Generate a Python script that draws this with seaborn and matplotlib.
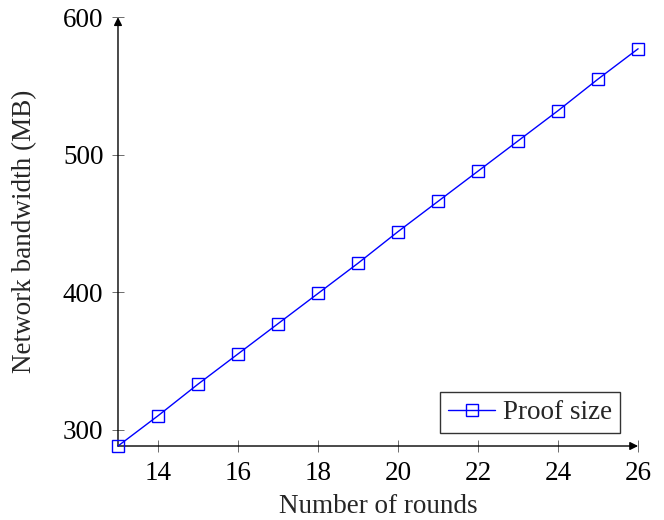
import pandas as pd
import matplotlib
matplotlib.use('Agg')
import matplotlib.pyplot as plt
import seaborn as sns

# data
rounds = [13, 14, 15, 16, 17, 18, 19, 20, 21, 22, 23, 24, 25, 26]
proof_size_mb = [288, 310, 333, 355, 377, 399, 421, 444, 466, 488, 510, 532, 555, 577]
series_name = 'Proof size'

x_ticks = [14, 16, 18, 20, 22, 24, 26]
y_ticks = [300, 400, 500, 600]

df = pd.DataFrame({'Rounds': rounds, 'MB': proof_size_mb, 'Series': series_name})

sns.set_style('white')
plt.rcParams['font.family'] = ['Liberation Serif', 'DejaVu Serif']

FS = 19.5

fig = plt.figure(figsize=(6.64, 5.2), dpi=100)
ax = fig.add_axes([0.1777, 0.1423, 0.961 - 0.1777, 0.967 - 0.1423])

sns.lineplot(data=df, x='Rounds', y='MB', hue='Series', palette={series_name: '#0000ff'},
             marker='s', markersize=8, markerfacecolor='none', markeredgecolor='#0000ff',
             markeredgewidth=1.0, linewidth=1.0, ax=ax, clip_on=False, zorder=5)

ax.set_xlim(13, 26)
ax.set_ylim(288, 600)
ax.set_xticks(x_ticks)
ax.set_yticks(y_ticks)

# pgfplots-ish axis lines: only left and bottom, drawn as arrows
for side in ['top', 'right', 'left', 'bottom']:
    ax.spines[side].set_visible(False)
arrow = dict(arrowstyle='-|>', color='black', lw=1.0, shrinkA=0, shrinkB=0,
             mutation_scale=12)
ax.annotate('', xy=(1, 0), xytext=(0, 0), xycoords='axes fraction',
            textcoords='axes fraction', arrowprops=arrow, zorder=4)
ax.annotate('', xy=(0, 1), xytext=(0, 0), xycoords='axes fraction',
            textcoords='axes fraction', arrowprops=arrow, zorder=4)

ax.tick_params(axis='both', direction='inout', length=9, width=0.6, color='#555555',
               labelsize=FS, labelcolor='black', pad=6, left=True, bottom=True)

ax.set_xlabel('Number of rounds', fontsize=FS)
ax.set_ylabel('Network bandwidth (MB)', fontsize=FS)
ax.xaxis.set_label_coords(0.5, -0.113)
ax.yaxis.set_label_coords(-0.155, 0.5)

leg = ax.legend(loc='lower right', bbox_to_anchor=(0.965, 0.03), fontsize=FS,
                frameon=True, fancybox=False, handlelength=1.7, handletextpad=0.3,
                borderpad=0.3, borderaxespad=0)
leg.get_frame().set_edgecolor('black')
leg.get_frame().set_linewidth(1.0)

fig.savefig('out.png', dpi=100)
